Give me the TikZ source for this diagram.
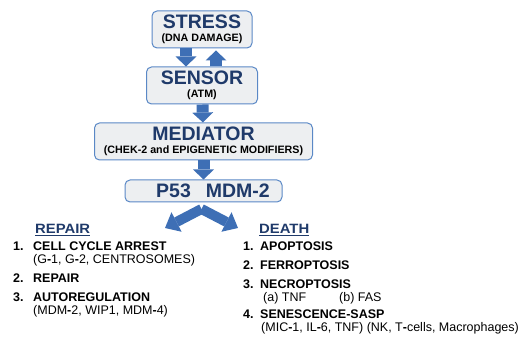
\documentclass[tikz,border=0pt]{standalone}
\usepackage{fontspec}
\usepackage{graphicx}
\setmainfont{Liberation Sans}
\usetikzlibrary{arrows.meta,positioning}
\definecolor{boxfill}{HTML}{EDEFF1}
\definecolor{boxline}{HTML}{5A88C6}
\definecolor{titlenavy}{HTML}{1F3A6A}
\definecolor{arrowblue}{HTML}{3E6FB5}
\tikzset{
  stage/.style={
    rectangle, rounded corners=5pt, draw=boxline, line width=1pt, fill=boxfill,
    minimum height=37pt, inner sep=0pt, align=center,
    font=\fontsize{10.7}{13.2}\selectfont\bfseries
  },
  bigarrow/.style={draw=arrowblue, line width=12pt,
    -{Triangle[width=21pt,length=10pt,line width=0pt]}},
  forkarrow/.style={draw=arrowblue, line width=10pt,
    -{Triangle[width=22pt,length=13pt,line width=0pt]}},
  heading/.style={anchor=base west, inner sep=0pt, text=titlenavy,
    font=\fontsize{13.5}{15}\selectfont\bfseries},
  num/.style={anchor=base west, inner sep=0pt, font=\fontsize{12.5}{14}\selectfont\bfseries},
  item/.style={anchor=base west, inner sep=0pt, font=\fontsize{12.5}{14}\selectfont\bfseries},
  subitem/.style={anchor=base west, inner sep=0pt, font=\fontsize{12.5}{14}\selectfont}
}
\newcommand{\stagetitle}[1]{{\fontsize{19.5}{22}\selectfont\color{titlenavy}#1}}
\newcommand{\headtext}[1]{\scalebox{1.1}[1]{#1}}
\newcommand{\bh}{\textbf{-}}

\begin{document}
\begin{tikzpicture}[x=1pt,y=-1pt,node distance=18pt]
\useasboundingbox (0,0) rectangle (528,339);
% pathway boxes
\node[stage, minimum width=100pt] (stress) at (202,29.5) {\stagetitle{STRESS}\\(DNA DAMAGE)};
\node[stage, minimum width=111pt, below=of stress] (sensor) {\stagetitle{SENSOR}\\(ATM)};
\node[stage, minimum width=218pt, below=of sensor, xshift=1.5pt] (mediator) {\stagetitle{MEDIATOR}\\(CHEK-2 and EPIGENETIC MODIFIERS)};
\node[stage, minimum width=157pt, minimum height=22pt, below=of mediator, yshift=-1pt] (p53) {\hspace*{19pt}\stagetitle{P53\hspace{15pt}MDM-2}};
\draw[bigarrow] ([xshift=-16pt]stress.south) -- ([xshift=-16pt]sensor.north);
\draw[bigarrow] ([xshift=14pt]sensor.north) -- ([xshift=14pt,yshift=-2pt]stress.south);
\draw[bigarrow] (sensor) -- (mediator);
\draw[bigarrow] (mediator) -- (p53);
% fork to both outcomes
\coordinate (fork) at ([xshift=-2pt,yshift=-6.5pt]p53.south);
\coordinate (repairtip) at (165,228);
\coordinate (deathtip) at (238,228);
\draw[forkarrow] (fork) -- (repairtip);
\draw[forkarrow] (fork) -- (deathtip);
% repair list
\node[heading] (repairhead) at (35,234) {\headtext{REPAIR}};
\draw[titlenavy, line width=1pt] ([yshift=-1.7pt]repairhead.base west) -- ([yshift=-1.7pt]repairhead.base east);
\node[num] (rn1) at (13,250.5) {1.};
\node[item] (r1) at (33,250.5) {CELL CYCLE ARREST};
\node[subitem] (r1b) at (33,263.5) {(G\bh1, G\bh2, CENTROSOMES)};
\node[num] (rn2) at (13,283) {2.};
\node[item] (r2) at (33,283) {REPAIR};
\node[num] (rn3) at (13,301.5) {3.};
\node[item] (r3) at (33,301.5) {AUTOREGULATION};
\node[subitem] (r3b) at (33,314.5) {(MDM\bh2, WIP1, MDM\bh4)};
% death list
\node[heading] (deathhead) at (259,234) {\headtext{DEATH}};
\draw[titlenavy, line width=1pt] ([yshift=-1.7pt]deathhead.base west) -- ([yshift=-1.7pt]deathhead.base east);
\node[num] (dn1) at (243,251) {1.};
\node[item] (d1) at (260,251) {APOPTOSIS};
\node[num] (dn2) at (243,270) {2.};
\node[item] (d2) at (260,270) {FERROPTOSIS};
\node[num] (dn3) at (243,289) {3.};
\node[item] (d3) at (260,289) {NECROPTOSIS};
\node[subitem] (d3a) at (263,301.5) {(a) TNF};
\node[subitem] (d3b) at (339,301.5) {(b) FAS};
\node[num] (dn4) at (243,319) {4.};
\node[item] (d4) at (260,319) {SENESCENCE-SASP};
\node[subitem] (d4b) at (261,331.5) {(MIC\bh1, IL\bh6, TNF) (NK, T\bh cells, Macrophages)};
\end{tikzpicture}
\end{document}
